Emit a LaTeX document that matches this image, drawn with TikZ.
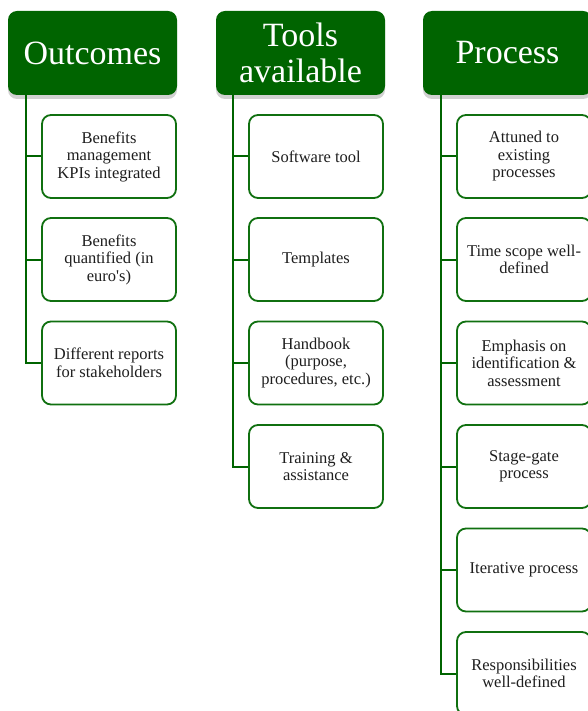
\documentclass[tikz,border=0pt]{standalone}
\usepackage{fontspec}
\setmainfont{Liberation Serif}
\usetikzlibrary{shadows}
\definecolor{hdrgreen}{RGB}{0,100,0}
\definecolor{boxgreen}{RGB}{16,112,16}
\definecolor{txtgray}{RGB}{30,30,30}
\begin{document}
\begin{tikzpicture}[x=1pt,y=-1pt,
  header/.style={rounded corners=9pt, fill=hdrgreen, text=white,
    minimum width=169pt, minimum height=84pt, inner sep=0pt, align=center,
    font=\fontsize{34}{36}\selectfont,
    drop shadow={shadow xshift=0pt, shadow yshift=-4pt, fill=black!45, opacity=0.4}},
  item/.style={rounded corners=9pt, draw=boxgreen, line width=1.8pt, fill=white,
    text=txtgray, minimum width=134pt, minimum height=83pt, inner sep=0pt,
    align=center, font=\fontsize{16.5}{17.5}\selectfont},
  branch/.style={draw=hdrgreen, line width=2pt}]
\useasboundingbox (0,0) rectangle (588,711);
\clip (0,0) rectangle (588,711);

% column headers
\node[header] (h1) at (92.5,53) {Outcomes};
\node[header] (h2) at (300.5,53) {Tools\\available};
\node[header] (h3) at (507.5,53) {Process};

% trunk start points under each header
\coordinate (t1) at ([xshift=18pt]h1.south west);
\coordinate (t2) at ([xshift=17pt]h2.south west);
\coordinate (t3) at ([xshift=18pt]h3.south west);

% Outcomes
\node[item] (a1) at (109,156.5) {Benefits\\management\\KPIs integrated};
\node[item] (a2) at (109,259.5) {Benefits\\quantified (in\\euro\textquotesingle s)};
\node[item] (a3) at (109,363) {Different reports\\for stakeholders};

% Tools available
\node[item] (b1) at (316,156.5) {Software tool};
\node[item] (b2) at (316,259.5) {Templates};
\node[item] (b3) at (316,363) {Handbook\\(purpose,\\procedures, etc.)};
\node[item] (b4) at (316,466.5) {Training \&\\assistance};

% Process
\node[item] (c1) at (524,156.5) {Attuned to\\existing\\processes};
\node[item] (c2) at (524,259.5) {Time scope well-\\defined};
\node[item] (c3) at (524,363) {Emphasis on\\identification \&\\assessment};
\node[item] (c4) at (524,466.5) {Stage-gate\\process};
\node[item] (c5) at (524,570) {Iterative process};
\node[item] (c6) at (524,673.5) {Responsibilities\\well-defined};

% connectors
\foreach \n in {a1,a2,a3} \draw[branch] (t1) |- (\n.west);
\foreach \n in {b1,b2,b3,b4} \draw[branch] (t2) |- (\n.west);
\foreach \n in {c1,c2,c3,c4,c5,c6} \draw[branch] (t3) |- (\n.west);
\end{tikzpicture}
\end{document}
